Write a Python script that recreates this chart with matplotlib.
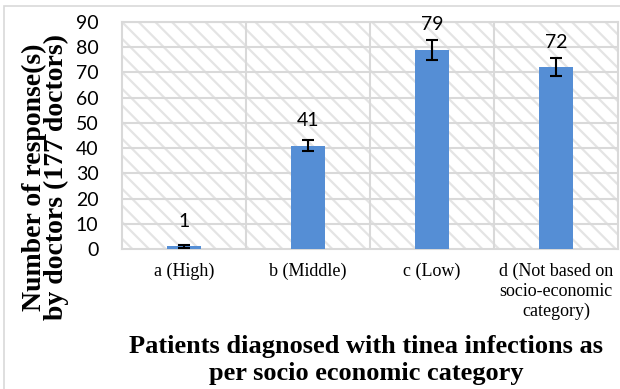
import numpy as np
import matplotlib.pyplot as plt
from matplotlib.patches import Rectangle

categories = ['a (High)', 'b (Middle)', 'c (Low)',
              'd (Not based on\nsocio-economic\ncategory)']
responses = [1, 41, 79, 72]
errors = [0.5, 2.2, 4, 3.6]

bar_color = '#558ed5'
grid_color = '#d9d9d9'

plt.rcParams['hatch.linewidth'] = 1.6

fig = plt.figure(figsize=(6.2, 3.89), dpi=100)
ax = fig.add_axes([122/620, 1 - 249/389, (618 - 122)/620, (249 - 22)/389])

# outer chart border (cropped on right/bottom)
fig.patches.append(Rectangle((4/620, -0.1), 1.2, 1 - 6/389 + 0.1,
                             transform=fig.transFigure, fill=False,
                             edgecolor=grid_color, lw=1.2))

# hatched plot area
ax.add_patch(Rectangle((0, 0), 1, 1, transform=ax.transAxes,
                       facecolor='white', edgecolor='#e4e4e4', lw=0,
                       hatch='\\\\', zorder=0))

x = np.arange(len(categories))
ax.bar(x, responses, width=0.27, color=bar_color, zorder=3)
ax.errorbar(x, responses, yerr=errors, fmt='none', ecolor='black',
            elinewidth=1.5, capsize=4.5, capthick=1.5, zorder=4)

for xi, v in zip(x, responses):
    ax.annotate(str(v), (xi, v), xytext=(0, 18), textcoords='offset points',
                ha='center', va='center', fontsize=14, family='Lato')

ax.set_xlim(-0.5, len(categories) - 0.5)
ax.set_ylim(0, 90)
ax.set_yticks(range(0, 91, 10))
for yv in range(10, 91, 10):
    ax.axhline(yv, color=grid_color, lw=1.5, zorder=1)
for xv in np.arange(0.5, len(categories) - 1, 1):
    ax.axvline(xv, color=grid_color, lw=1.5, zorder=1)

for s in ax.spines.values():
    s.set_color(grid_color)
    s.set_linewidth(1.5)

ax.set_xticks(x)
ax.set_xticklabels(categories, family='Liberation Serif', fontsize=13,
                   linespacing=1.2)
ax.tick_params(axis='x', length=0, pad=10)
ax.tick_params(axis='y', length=0, pad=17, labelsize=14)
for lbl in ax.get_yticklabels():
    lbl.set_family('Lato')

ax.set_ylabel('Number of response(s)\nby doctors (177 doctors)',
              family='Liberation Serif', fontweight='bold', fontsize=20,
              linespacing=0.85)
ax.yaxis.set_label_coords(-0.107, 0.315)
ax.set_xlabel('Patients diagnosed with tinea infections as\nper socio economic category',
              family='Liberation Serif', fontweight='bold', fontsize=19,
              linespacing=1.2)
ax.xaxis.set_label_coords(0.492, -0.381)

fig.savefig('out.png', dpi=100)
